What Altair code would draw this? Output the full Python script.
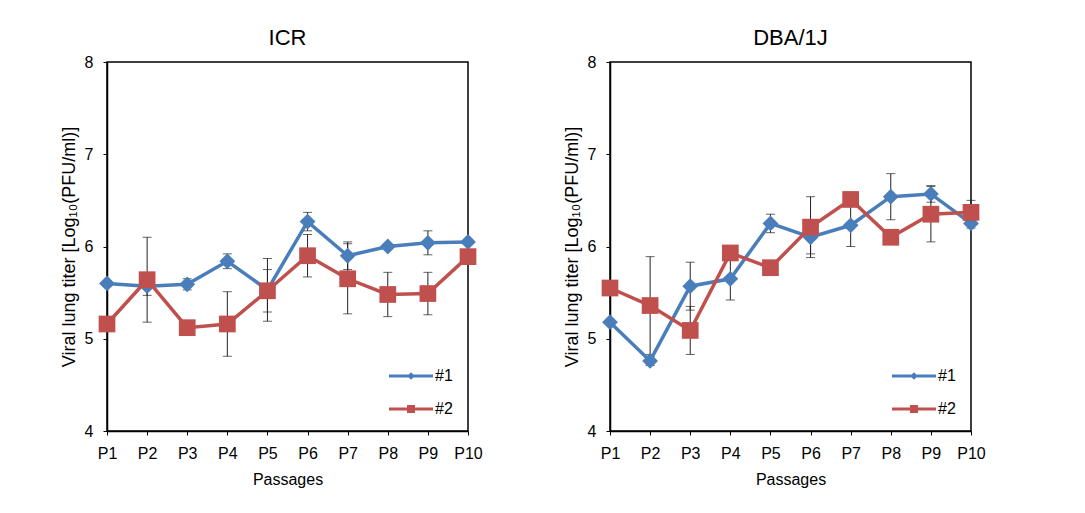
import altair as alt
import pandas as pd

passages = ["P1", "P2", "P3", "P4", "P5", "P6", "P7", "P8", "P9", "P10"]
series_names = ["#1", "#2"]

# ICR
icr_1 = [5.60, 5.57, 5.59, 5.84, 5.53, 6.27, 5.90, 6.00, 6.04, 6.05]
icr_1_err = [0.03, 0.10, 0.06, 0.08, 0.34, 0.10, 0.15, 0.03, 0.13, 0.03]
icr_2 = [5.16, 5.64, 5.12, 5.16, 5.52, 5.90, 5.65, 5.48, 5.49, 5.89]
icr_2_err = [0.03, 0.46, 0.03, 0.35, 0.23, 0.23, 0.38, 0.24, 0.23, 0.03]

# DBA/1J
dba_1 = [5.18, 4.76, 5.57, 5.65, 6.25, 6.10, 6.23, 6.54, 6.57, 6.25]
dba_1_err = [0.03, 0.05, 0.26, 0.23, 0.10, 0.18, 0.23, 0.25, 0.09, 0.05]
dba_2 = [5.55, 5.36, 5.09, 5.93, 5.77, 6.21, 6.51, 6.10, 6.35, 6.37]
dba_2_err = [0.03, 0.53, 0.26, 0.08, 0.03, 0.33, 0.05, 0.03, 0.30, 0.13]

rows = []
for strain, s1, e1, s2, e2 in [("ICR", icr_1, icr_1_err, icr_2, icr_2_err),
                               ("DBA/1J", dba_1, dba_1_err, dba_2, dba_2_err)]:
    for name, vals, errs in [("#1", s1, e1), ("#2", s2, e2)]:
        for p, v, e in zip(passages, vals, errs):
            rows.append({"strain": strain, "series": name, "passage": p, "value": v, "err": e})
df = pd.DataFrame(rows)

BLUE = "#4A7EBB"
RED = "#C0504D"
FONT = "Liberation Sans"

color_scale = alt.Scale(domain=series_names, range=[BLUE, RED])

path1 = "M-1,-0.16H3.4V0.16H-1Z M1.2,-0.38L1.58,0L1.2,0.38L0.82,0Z"
path2 = "M-1,-0.16H3.4V0.16H-1Z M0.8,-0.4H1.6V0.4H0.8Z"
shape_scale = alt.Scale(domain=series_names, range=[path1, path2])

legend = alt.Legend(
    orient="none", legendX=282, legendY=304, title=None,
    labelFontSize=16, labelFont=FONT, labelColor="black", labelOffset=26,
    symbolSize=400, rowPadding=15, padding=0, symbolOpacity=1,
    symbolStrokeWidth=0,
)


def panel(strain):
    base = alt.Chart(df).transform_filter(alt.datum.strain == strain).transform_calculate(
        lo="datum.value - datum.err", hi="datum.value + datum.err")
    x = alt.X("passage:O", sort=passages, scale=alt.Scale(type="point", padding=0),
              axis=alt.Axis(title="Passages", labelAngle=0))
    ysc = alt.Scale(domain=[4, 8], nice=False, zero=False)
    yax = alt.Axis(values=[4, 5, 6, 7, 8], title="Viral lung titer [Log₁₀(PFU/ml)]")
    y = alt.Y("value:Q", scale=ysc, axis=yax)
    ylo = alt.Y("lo:Q", scale=ysc, axis=yax)
    yhi = alt.Y("hi:Q", scale=ysc, axis=yax)
    bars = base.mark_rule(color="#222222", strokeWidth=1).encode(x=x, y=ylo, y2="hi:Q")
    cap_lo = base.mark_tick(color="#222222", thickness=1, size=9).encode(x=x, y=ylo)
    cap_hi = base.mark_tick(color="#222222", thickness=1, size=9).encode(x=x, y=yhi)
    layers = [bars, cap_lo, cap_hi]
    # legend-carrying layer: invisible points, legend symbols forced opaque
    leg = base.transform_filter(alt.datum.passage == "P1").mark_point(
        filled=True, opacity=0, strokeWidth=0).encode(
        x=x, y=y,
        color=alt.Color("series:N", scale=color_scale, legend=legend),
        shape=alt.Shape("series:N", scale=shape_scale, legend=legend))
    layers.append(leg)
    for name, shape, size in [("#1", "diamond", 250), ("#2", "square", 280)]:
        sb = base.transform_filter(alt.datum.series == name)
        line = sb.mark_line(strokeWidth=3.5).encode(
            x=x, y=y, color=alt.Color("series:N", scale=color_scale, legend=None))
        pts = sb.mark_point(filled=True, opacity=1, shape=shape, size=size).encode(
            x=x, y=y, color=alt.Color("series:N", scale=color_scale, legend=None))
        layers += [line, pts]
    return alt.layer(*layers).properties(
        width=361, height=369,
        title=alt.TitleParams(strain, fontSize=22, font=FONT, fontWeight="normal",
                              color="black", offset=4, anchor="middle"))


chart = alt.hconcat(panel("ICR"), panel("DBA/1J"), spacing=79).resolve_scale(
    color="independent", shape="independent").resolve_legend(
    color="independent", shape="independent").properties(
    padding={"left": 51, "top": 18, "right": 5, "bottom": 5}
).configure_view(stroke="black", strokeWidth=1.5).configure_axis(
    labelFont=FONT, titleFont=FONT, labelFontSize=16, titleFontSize=16,
    labelColor="black", titleColor="black", titleFontWeight="normal",
    domainColor="black", domainWidth=1.5, tickColor="black", tickSize=4,
    labelPadding=10, grid=False
).configure_axisY(titleFontSize=18, titlePadding=6).configure_axisX(titlePadding=10)

chart.save("out.html", embed_options={"renderer": "svg", "actions": False})
